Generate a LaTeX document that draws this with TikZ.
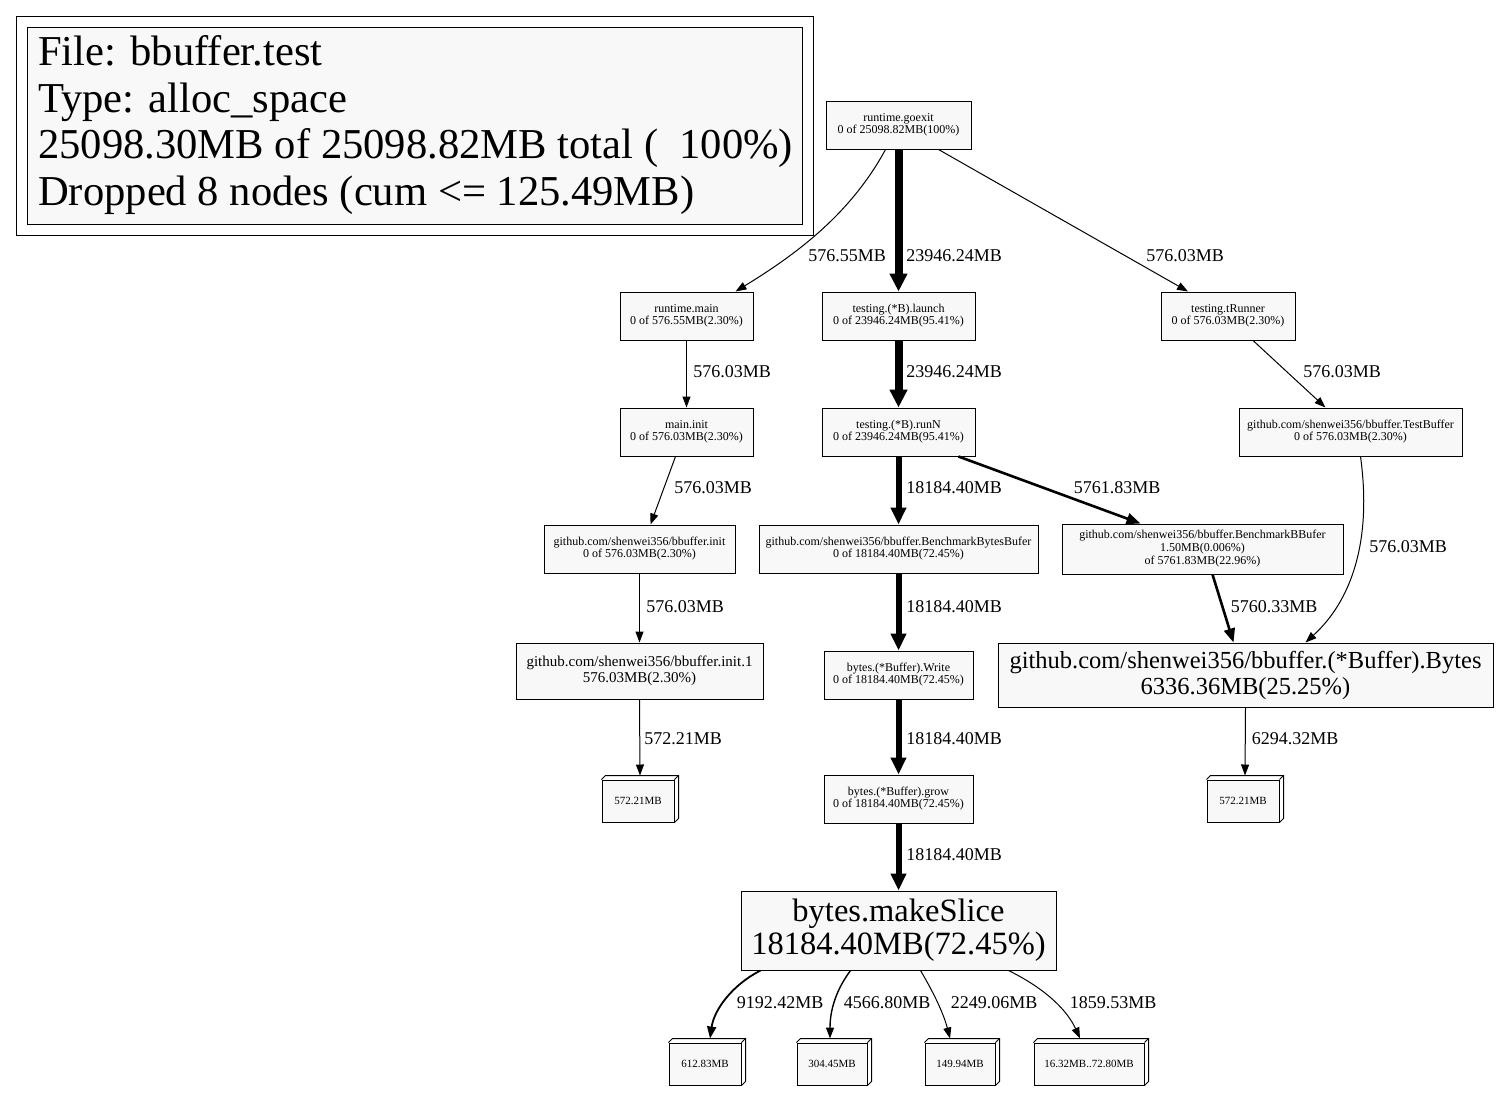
\documentclass[tikz,border=0pt]{standalone}
\usepackage{fontspec}
\setmainfont{Liberation Serif}
\usetikzlibrary{arrows.meta}
\definecolor{boxfill}{HTML}{F8F8F8}
\tikzset{
  nbox/.style={draw=black, fill=boxfill, line width=1pt, inner sep=0pt, align=center},
  smallbox/.style={nbox, font=\fontsize{12}{12}\selectfont},
  threed/.style={nbox, font=\fontsize{11}{12}\selectfont, minimum width=72pt, minimum height=42pt},
  lbl/.style={font=\fontsize{18}{20}\selectfont, inner sep=0pt},
  e/.style={line width=1pt, -{Triangle[length=11pt, width=8pt]}},
  emid/.style={line width=2.6pt, -{Triangle[length=14pt, width=11pt]}},
  ethick/.style={line width=6pt, -{Triangle[length=17pt, width=15pt]}},
  ethicker/.style={line width=8pt, -{Triangle[length=18pt, width=17pt]}},
}
\newcommand{\boxthree}[1]{%
  \draw[line width=1pt] (#1.north west) -- ++(4,-4) -- ([shift={(4,-4)}]#1.north east) -- ([shift={(4,-4)}]#1.south east) -- (#1.south east);
  \draw[line width=1pt] (#1.north east) -- ++(4,-4);}
\begin{document}
\begin{tikzpicture}[x=1pt,y=-1pt]
\useasboundingbox (0,0) rectangle (1498,1092);
% legend
\draw[line width=1pt] (16,16) rectangle (813,235);
\node[nbox, minimum width=775pt, minimum height=197pt] (legend) at (414.5,125.5) {};
\node[anchor=west, align=left, inner sep=0pt, font=\fontsize{42.6}{46.7}\selectfont] (legendtext) at (38,125)
 {File: bbuffer.test\\Type: alloc\_space\\25098.30MB of 25098.82MB total (\ \ 100\%)\\Dropped 8 nodes (cum <= 125.49MB)};
% nodes
\node[smallbox, minimum width=145pt, minimum height=48pt] (goexit) at (898.5,125) {runtime.goexit\\0 of 25098.82MB(100\%)};
\node[smallbox, minimum width=133pt, minimum height=48pt] (rmain) at (686.5,316) {runtime.main\\0 of 576.55MB(2.30\%)};
\node[smallbox, minimum width=153pt, minimum height=48pt] (launch) at (898.5,316) {testing.(*B).launch\\0 of 23946.24MB(95.41\%)};
\node[smallbox, minimum width=134pt, minimum height=48pt] (trunner) at (1228,316) {testing.tRunner\\0 of 576.03MB(2.30\%)};
\node[smallbox, minimum width=133pt, minimum height=48pt] (minit) at (686.5,432) {main.init\\0 of 576.03MB(2.30\%)};
\node[smallbox, minimum width=153pt, minimum height=48pt] (runn) at (898.5,432) {testing.(*B).runN\\0 of 23946.24MB(95.41\%)};
\node[smallbox, minimum width=223pt, minimum height=48pt] (testbuf) at (1350.5,432) {github.com/shenwei356/bbuffer.TestBuffer\\0 of 576.03MB(2.30\%)};
\node[smallbox, minimum width=191pt, minimum height=48pt] (binit) at (639.5,549) {github.com/shenwei356/bbuffer.init\\0 of 576.03MB(2.30\%)};
\node[smallbox, minimum width=279pt, minimum height=48pt] (bbytes) at (898.5,549) {github.com/shenwei356/bbuffer.BenchmarkBytesBufer\\0 of 18184.40MB(72.45\%)};
\node[smallbox, minimum width=281pt, minimum height=50pt, font=\fontsize{12}{13}\selectfont] (bbb) at (1202.5,549) {github.com/shenwei356/bbuffer.BenchmarkBBufer\\1.50MB(0.006\%)\\of 5761.83MB(22.96\%)};
\node[nbox, minimum width=247pt, minimum height=56pt, font=\fontsize{15}{16}\selectfont] (init1) at (639.5,671) {github.com/shenwei356/bbuffer.init.1\\576.03MB(2.30\%)};
\node[smallbox, minimum width=149pt, minimum height=48pt] (write) at (898.5,675) {bytes.(*Buffer).Write\\0 of 18184.40MB(72.45\%)};
\node[nbox, minimum width=495pt, minimum height=64pt, font=\fontsize{24.5}{26}\selectfont] (bytes) at (1245.5,675) {github.com/shenwei356/bbuffer.(*Buffer).Bytes\\6336.36MB(25.25\%)};
\node[threed] (boxa) at (638,801) {572.21MB};
\node[smallbox, minimum width=149pt, minimum height=48pt] (grow) at (898.5,799) {bytes.(*Buffer).grow\\0 of 18184.40MB(72.45\%)};
\node[threed] (boxb) at (1243,801) {572.21MB};
\node[nbox, minimum width=315pt, minimum height=79pt, font=\fontsize{32.5}{33}\selectfont] (mslice) at (898.5,930.5) {bytes.makeSlice\\18184.40MB(72.45\%)};
\node[threed, minimum width=72pt] (b1) at (705,1064) {612.83MB};
\node[threed, minimum width=70pt] (b2) at (832,1064) {304.45MB};
\node[threed, minimum width=70pt] (b3) at (960,1064) {149.94MB};
\node[threed, minimum width=110pt] (b4) at (1089,1064) {16.32MB..72.80MB};
\boxthree{boxa}\boxthree{boxb}\boxthree{b1}\boxthree{b2}\boxthree{b3}\boxthree{b4}
% edges
\draw[e] ([shift={(-13,0)}]goexit.south) .. controls (850,215) and (795,255) .. ([shift={(49,0)}]rmain.north);
\draw[ethicker] (goexit.south) -- (launch.north);
\draw[e] ([shift={(40,0)}]goexit.south) -- ([shift={(-40,0)}]trunner.north);
\draw[e] (rmain.south) -- (minit.north);
\draw[ethicker] (launch.south) -- (runn.north);
\draw[e] ([shift={(25,0)}]trunner.south) -- ([shift={(-25,0)}]testbuf.north);
\draw[e] ([shift={(-11,0)}]minit.south) -- ([shift={(11,0)}]binit.north);
\draw[ethick] (runn.south) -- (bbytes.north);
\draw[emid] ([shift={(60,0)}]runn.south) -- ([shift={(-62,0)}]bbb.north);
\draw[e] ([shift={(10,0)}]testbuf.south) .. controls (1372,540) and (1352,600) .. ([shift={(60,0)}]bytes.north);
\draw[e] (binit.south) -- (init1.north);
\draw[ethick] (bbytes.south) -- (write.north);
\draw[emid] ([shift={(10,0)}]bbb.south) -- ([shift={(-12,0)}]bytes.north);
\draw[e] (init1.south) -- ([shift={(2,-4)}]boxa.north);
\draw[ethick] (write.south) -- (grow.north);
\draw[e] (bytes.south) -- ([shift={(2,-4)}]boxb.north);
\draw[ethick] (grow.south) -- (mslice.north);
\draw[line width=1.8pt, -{Triangle[length=12pt, width=9pt]}] ([shift={(-138,0)}]mslice.south) .. controls (732,985) and (714,1010) .. ([shift={(5,-4)}]b1.north);
\draw[line width=1.4pt, -{Triangle[length=11pt, width=8pt]}] ([shift={(-48,0)}]mslice.south) .. controls (836,990) and (830,1010) .. ([shift={(-2,-4)}]b2.north);
\draw[e] ([shift={(22,0)}]mslice.south) .. controls (935,995) and (944,1015) .. ([shift={(-10,-4)}]b3.north);
\draw[e] ([shift={(110,0)}]mslice.south) .. controls (1048,990) and (1068,1012) .. ([shift={(-9,-4)}]b4.north);
% labels
\node[lbl] (l1) at (847,256) {576.55MB};
\node[lbl] (l2) at (954,256) {23946.24MB};
\node[lbl] (l3) at (1185,256) {576.03MB};
\node[lbl] (l4) at (732,372) {576.03MB};
\node[lbl] (l5) at (954,372) {23946.24MB};
\node[lbl] (l6) at (1342,372) {576.03MB};
\node[lbl] (l7) at (713,488) {576.03MB};
\node[lbl] (l8) at (954,488) {18184.40MB};
\node[lbl] (l9) at (1117,488) {5761.83MB};
\node[lbl] (l10) at (1408,547) {576.03MB};
\node[lbl] (l11) at (685,607) {576.03MB};
\node[lbl] (l12) at (954,607) {18184.40MB};
\node[lbl] (l13) at (1274,607) {5760.33MB};
\node[lbl] (l14) at (683,739) {572.21MB};
\node[lbl] (l15) at (954,739) {18184.40MB};
\node[lbl] (l16) at (1295,739) {6294.32MB};
\node[lbl] (l17) at (954,855) {18184.40MB};
\node[lbl] (l18) at (780,1003) {9192.42MB};
\node[lbl] (l19) at (887,1003) {4566.80MB};
\node[lbl] (l20) at (994,1003) {2249.06MB};
\node[lbl] (l21) at (1113,1003) {1859.53MB};
\end{tikzpicture}
\end{document}
